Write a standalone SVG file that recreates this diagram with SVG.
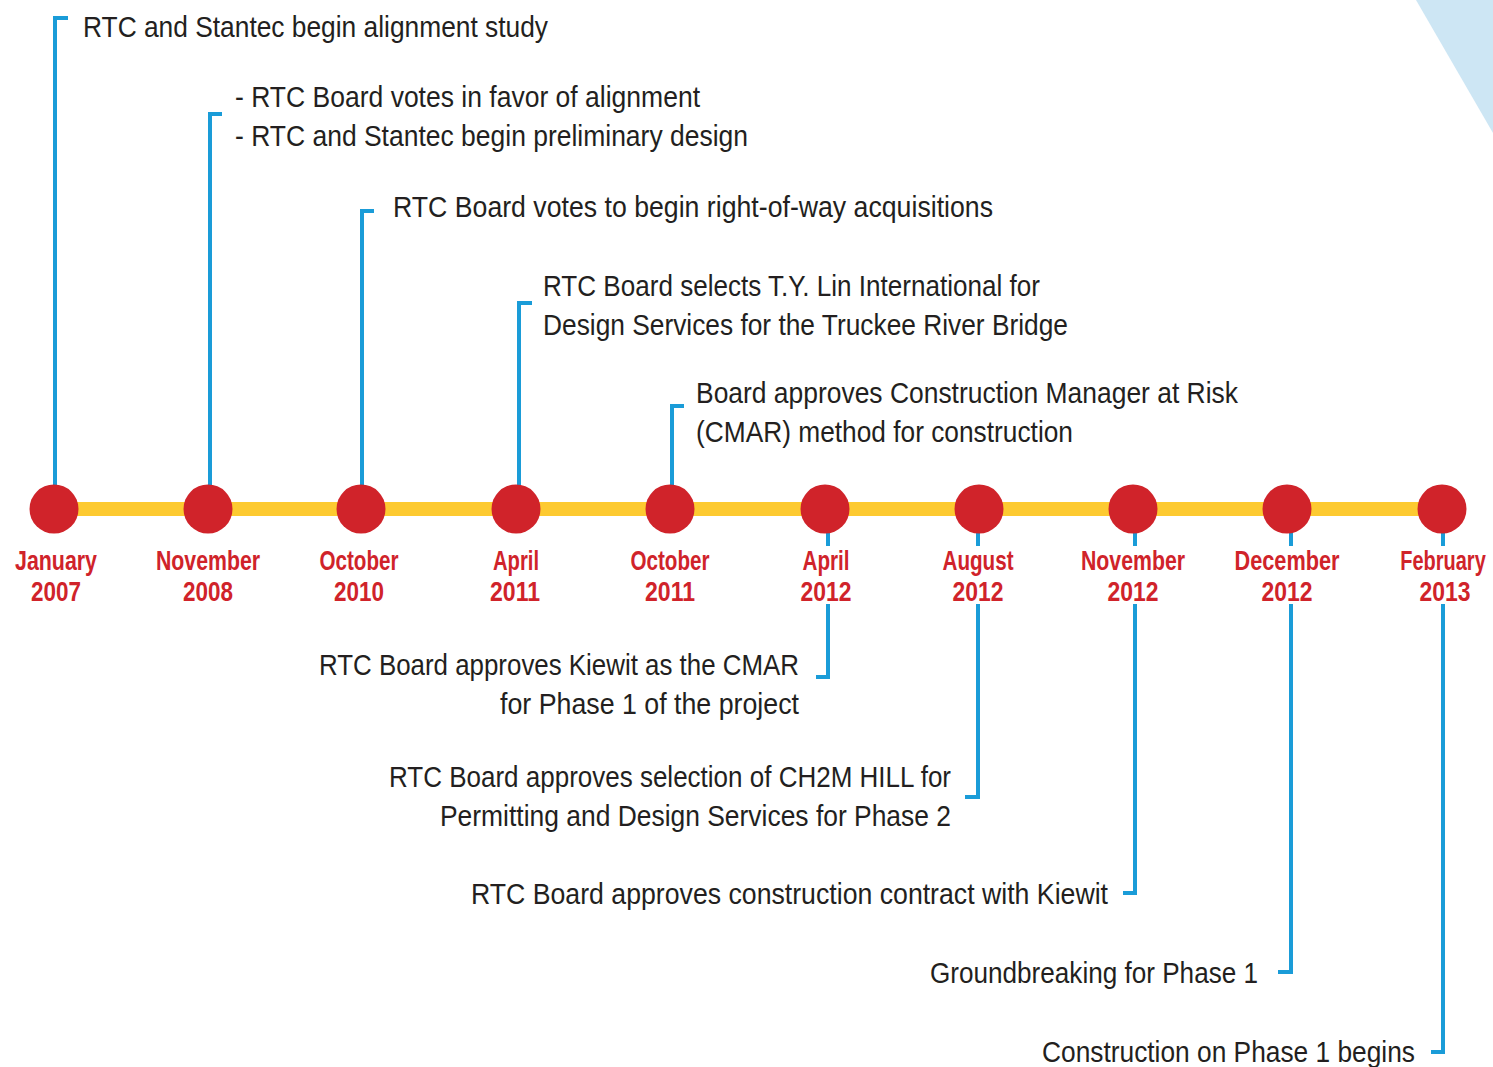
<svg xmlns="http://www.w3.org/2000/svg" width="1493" height="1067" viewBox="0 0 1493 1067">
<style>
.t{font-family:"Liberation Sans",Arial,sans-serif;font-size:29px;fill:#231f20}
.m{font-family:"Liberation Sans",Arial,sans-serif;font-size:27px;font-weight:bold;fill:#d0232a;text-anchor:middle}
.b{fill:none;stroke:#1a9cd8;stroke-width:4;stroke-linejoin:miter;stroke-linecap:butt}
.d{fill:#d0232a}
</style>
<rect width="1493" height="1067" fill="#ffffff"/>
<polygon points="1416,0 1493,0 1493,133" fill="#cde6f4"/>
<g id="connectors">
<path class="b" d="M68,18 H55 V486"/>
<path class="b" d="M222,114 H210 V486"/>
<path class="b" d="M374,211 H362 V486"/>
<path class="b" d="M532,303 H519 V486"/>
<path class="b" d="M684,406 H672 V486"/>
<path class="b" d="M828,532 V546 M828,604 V677 H816"/>
<path class="b" d="M978,532 V546 M978,604 V797 H965"/>
<path class="b" d="M1135,532 V546 M1135,604 V893 H1123"/>
<path class="b" d="M1291,532 V546 M1291,604 V972 H1278"/>
<path class="b" d="M1443,532 V546 M1443,604 V1052 H1431"/>
</g>
<line x1="54" y1="509" x2="1442" y2="509" stroke="#fdca31" stroke-width="14"/>
<g id="n1"><circle class="d" cx="54" cy="509" r="24.5"/><text class="m" x="56" y="570" textLength="82" lengthAdjust="spacingAndGlyphs">January</text><text class="m" x="56" y="601" textLength="50" lengthAdjust="spacingAndGlyphs">2007</text><text class="t" x="83" y="37" textLength="465" lengthAdjust="spacingAndGlyphs">RTC and Stantec begin alignment study</text></g>
<g id="n2"><circle class="d" cx="208" cy="509" r="24.5"/><text class="m" x="208" y="570" textLength="104" lengthAdjust="spacingAndGlyphs">November</text><text class="m" x="208" y="601" textLength="50" lengthAdjust="spacingAndGlyphs">2008</text><text class="t" x="235" y="107" textLength="465" lengthAdjust="spacingAndGlyphs">- RTC Board votes in favor of alignment</text><text class="t" x="235" y="146" textLength="513" lengthAdjust="spacingAndGlyphs">- RTC and Stantec begin preliminary design</text></g>
<g id="n3"><circle class="d" cx="361" cy="509" r="24.5"/><text class="m" x="359" y="570" textLength="79" lengthAdjust="spacingAndGlyphs">October</text><text class="m" x="359" y="601" textLength="50" lengthAdjust="spacingAndGlyphs">2010</text><text class="t" x="393" y="217" textLength="600" lengthAdjust="spacingAndGlyphs">RTC Board votes to begin right-of-way acquisitions</text></g>
<g id="n4"><circle class="d" cx="516" cy="509" r="24.5"/><text class="m" x="516" y="570" textLength="46" lengthAdjust="spacingAndGlyphs">April</text><text class="m" x="515" y="601" textLength="50" lengthAdjust="spacingAndGlyphs">2011</text><text class="t" x="543" y="296" textLength="497" lengthAdjust="spacingAndGlyphs">RTC Board selects T.Y. Lin International for</text><text class="t" x="543" y="335" textLength="525" lengthAdjust="spacingAndGlyphs">Design Services for the Truckee River Bridge</text></g>
<g id="n5"><circle class="d" cx="670" cy="509" r="24.5"/><text class="m" x="670" y="570" textLength="79" lengthAdjust="spacingAndGlyphs">October</text><text class="m" x="670" y="601" textLength="50" lengthAdjust="spacingAndGlyphs">2011</text><text class="t" x="696" y="403" textLength="542" lengthAdjust="spacingAndGlyphs">Board approves Construction Manager at Risk</text><text class="t" x="696" y="442" textLength="377" lengthAdjust="spacingAndGlyphs">(CMAR) method for construction</text></g>
<g id="n6"><circle class="d" cx="825" cy="509" r="24.5"/><text class="m" x="826" y="570" textLength="47" lengthAdjust="spacingAndGlyphs">April</text><text class="m" x="826" y="601" textLength="51" lengthAdjust="spacingAndGlyphs">2012</text><text class="t" x="319" y="675" textLength="480" lengthAdjust="spacingAndGlyphs">RTC Board approves Kiewit as the CMAR</text><text class="t" x="500" y="714" textLength="299" lengthAdjust="spacingAndGlyphs">for Phase 1 of the project</text></g>
<g id="n7"><circle class="d" cx="979" cy="509" r="24.5"/><text class="m" x="978" y="570" textLength="71" lengthAdjust="spacingAndGlyphs">August</text><text class="m" x="978" y="601" textLength="51" lengthAdjust="spacingAndGlyphs">2012</text><text class="t" x="389" y="787" textLength="562" lengthAdjust="spacingAndGlyphs">RTC Board approves selection of CH2M HILL for</text><text class="t" x="440" y="826" textLength="511" lengthAdjust="spacingAndGlyphs">Permitting and Design Services for Phase 2</text></g>
<g id="n8"><circle class="d" cx="1133" cy="509" r="24.5"/><text class="m" x="1133" y="570" textLength="104" lengthAdjust="spacingAndGlyphs">November</text><text class="m" x="1133" y="601" textLength="51" lengthAdjust="spacingAndGlyphs">2012</text><text class="t" x="471" y="904" textLength="637" lengthAdjust="spacingAndGlyphs">RTC Board approves construction contract with Kiewit</text></g>
<g id="n9"><circle class="d" cx="1287" cy="509" r="24.5"/><text class="m" x="1287" y="570" textLength="105" lengthAdjust="spacingAndGlyphs">December</text><text class="m" x="1287" y="601" textLength="51" lengthAdjust="spacingAndGlyphs">2012</text><text class="t" x="930" y="983" textLength="328" lengthAdjust="spacingAndGlyphs">Groundbreaking for Phase 1</text></g>
<g id="n10"><circle class="d" cx="1442" cy="509" r="24.5"/><text class="m" transform="translate(1443,570) scale(0.74,1)" x="0" y="0">February</text><text class="m" x="1445" y="601" textLength="51" lengthAdjust="spacingAndGlyphs">2013</text><text class="t" x="1042" y="1062" textLength="373" lengthAdjust="spacingAndGlyphs">Construction on Phase 1 begins</text></g>
</svg>
